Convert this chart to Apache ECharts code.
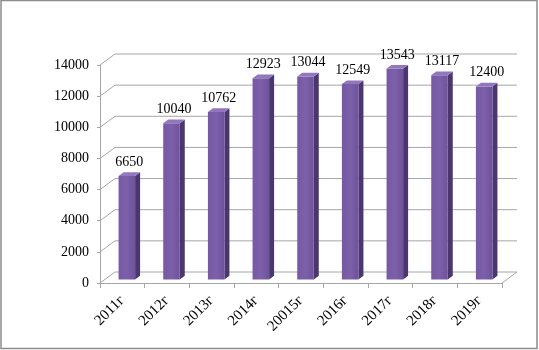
<!DOCTYPE html>
<html>
<head>
<meta charset="utf-8">
<script src="https://cdn.jsdelivr.net/npm/echarts@6/dist/echarts.min.js"></script>
<style>
  html, body { margin: 0; padding: 0; background: #fff; }
  #chart { width: 539px; height: 350px; }
</style>
</head>
<body>
<div id="chart"></div>
<script>
const years = ['2011г', '2012г', '2013г', '2014г', '20015г', '2016г', '2017г', '2018г', '2019г'];
const values = [6650, 10040, 10762, 12923, 13044, 12549, 13543, 13117, 12400];
const yTicks = [0, 2000, 4000, 6000, 8000, 10000, 12000, 14000];

// depth of the 3d box (pixels)
const DX = 15, DY = -11;
const FONT = '"Liberation Serif", "Times New Roman", serif';
const GRID_COLOR = '#a6a6a6';

const chart = echarts.init(document.getElementById('chart'));

function wallItem(params, api) {
  const cs = params.coordSys;
  const y = api.coord([0, api.value(1)])[1];
  const style = { stroke: GRID_COLOR, lineWidth: 1 };
  const children = [
    { type: 'line', shape: { x1: cs.x, y1: y, x2: cs.x + DX, y2: y + DY }, style },
    { type: 'line', shape: { x1: cs.x + DX, y1: y + DY, x2: cs.x + cs.width + DX, y2: y + DY }, style }
  ];
  if (api.value(1) === 0) {
    children.push({ type: 'line', shape: { x1: cs.x + cs.width, y1: y, x2: cs.x + cs.width + DX, y2: y + DY }, style });
  }
  return { type: 'group', children };
}

function barItem(params, api) {
  const i = api.value(0), v = api.value(1);
  const base = api.coord([i, 0]);
  const top = api.coord([i, v]);
  const band = api.size([1, 0])[0];
  const w = band * 0.37;
  const ox = 4.5, oy = -3.5;     // bar sits a bit inside the box
  const bdx = 5, bdy = -3.7;     // bar depth
  const xl = base[0] + ox - w / 2, xr = xl + w;
  const yt = top[1] + oy, yb = base[1] + oy;
  return {
    type: 'group',
    children: [
      { type: 'polygon', shape: { points: [[xr, yt], [xr + bdx, yt + bdy], [xr + bdx, yb + bdy], [xr, yb]] },
        style: { fill: '#4a376e' } },
      { type: 'rect', shape: { x: xl, y: yt, width: w, height: yb - yt },
        style: { fill: new echarts.graphic.LinearGradient(0, 0, 1, 0, [
          { offset: 0, color: '#7658a4' }, { offset: 0.5, color: '#7d60aa' }, { offset: 1, color: '#6f529c' }]) } },
      { type: 'polygon', shape: { points: [[xl, yt], [xl + bdx, yt + bdy], [xr + bdx, yt + bdy], [xr, yt]] },
        style: { fill: '#9277bf' } },
      { type: 'text', style: { text: String(v), x: (xl + xr + bdx) / 2, y: yt + bdy - 10,
        align: 'center', verticalAlign: 'middle', fill: '#000', font: '14px ' + FONT } }
    ]
  };
}

chart.setOption({
  animation: false,
  backgroundColor: '#fff',
  graphic: [{
    type: 'rect', shape: { x: 1, y: 0.5, width: 536, height: 348 },
    style: { fill: 'none', stroke: '#8c8c8c', lineWidth: 1.5 }, silent: true
  }],
  grid: { left: 100, top: 65, width: 402, height: 218 },
  xAxis: {
    type: 'category',
    data: years,
    axisLine: { lineStyle: { color: GRID_COLOR } },
    axisTick: { show: true, length: 5, lineStyle: { color: GRID_COLOR } },
    axisLabel: { rotate: 45, margin: 15, color: '#000', fontSize: 15, fontFamily: FONT }
  },
  yAxis: {
    type: 'value',
    min: 0, max: 14000, interval: 2000,
    axisLine: { show: true, lineStyle: { color: GRID_COLOR } },
    axisTick: { show: true, length: 3, lineStyle: { color: GRID_COLOR } },
    splitLine: { show: false },
    axisLabel: { color: '#000', fontSize: 14, fontFamily: FONT, margin: 11, formatter: v => String(v) }
  },
  series: [
    { type: 'custom', name: 'wall', data: yTicks.map(t => [0, t]), renderItem: wallItem, silent: true, z: 1 },
    { type: 'custom', name: 'bars', data: values.map((v, i) => [i, v]), renderItem: barItem, z: 2 }
  ]
});
</script>
</body>
</html>
